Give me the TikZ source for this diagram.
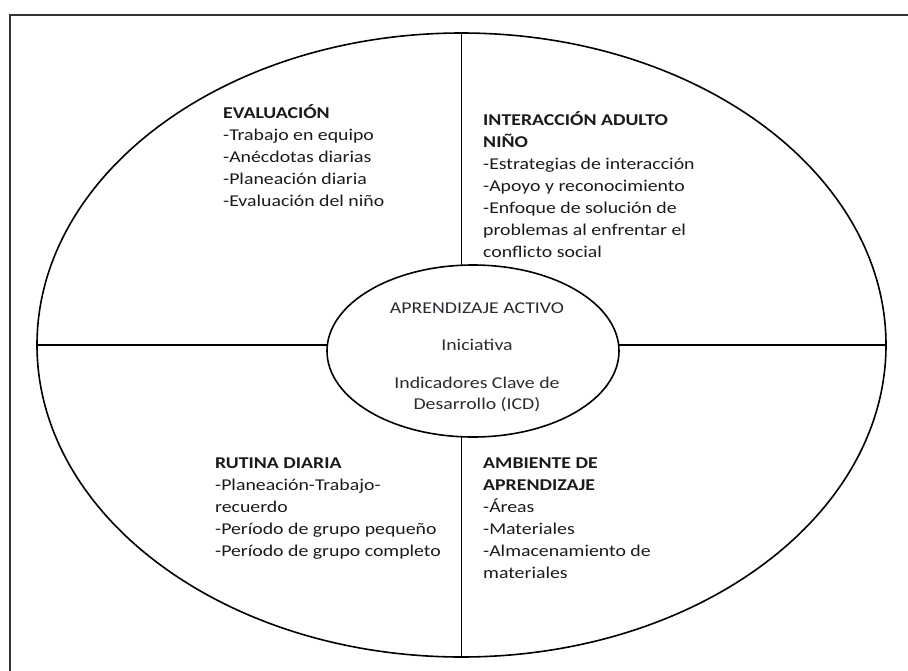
\documentclass[tikz,border=0pt]{standalone}
\usepackage{fontspec}
\setmainfont{Carlito}[FakeStretch=1.2]
\usetikzlibrary{shapes.geometric}
\definecolor{ink}{HTML}{1A1A1A}
\definecolor{inkcore}{HTML}{2A2A30}
\begin{document}
\begin{tikzpicture}[x=1pt,y=-1pt,
  framepen/.style={draw=black!80, line width=1.2pt},
  ringpen/.style={draw=black, line width=1.6pt},
  block/.style={anchor=base west, inner sep=0pt, align=left, text=ink,
    font=\fontsize{16.5}{22}\selectfont},
  coretext/.style={anchor=base, inner sep=0pt, align=center, text=inkcore,
    font=\fontsize{16.5}{21}\selectfont}]
\useasboundingbox (0,0) rectangle (908,670);
\coordinate (fbl) at (10,671);
\coordinate (ftl) at (10,15);
\coordinate (ftr) at (909,15);
\draw[framepen] (fbl) -- (ftl) -- (ftr);
\node[ellipse, ringpen, minimum width=849pt, minimum height=624pt, inner sep=0pt] (outer) at (461.5,345) {};
\draw[ringpen] (outer.north) -- (outer.south);
\draw[ringpen] (outer.west) -- (outer.east);
\node[ellipse, ringpen, fill=white, minimum width=292pt, minimum height=172pt, inner sep=0pt] (core) at (473,351) {};
\node[coretext] (t1) at (477,313) {APRENDIZAJE ACTIVO};
\node[coretext] (t2) at (477,350) {Iniciativa};
\node[coretext] (t3) at (477,409) {Indicadores Clave de\\Desarrollo (ICD)};
\node[block] (eval) at (223,206) {\textbf{EVALUACIÓN}\\-Trabajo en equipo\\-Anécdotas diarias\\-Planeación diaria\\-Evaluación del niño};
\node[block] (inter) at (483,257) {\textbf{INTERACCIÓN ADULTO}\\\textbf{NIÑO}\\-Estrategias de interacción\\-Apoyo y reconocimiento\\-Enfoque de solución de\\problemas al enfrentar el\\conflicto social};
\node[block] (rutina) at (215,556) {\textbf{RUTINA DIARIA}\\-Planeación-Trabajo-\\recuerdo\\-Período de grupo pequeño\\-Período de grupo completo};
\node[block] (amb) at (483,578) {\textbf{AMBIENTE DE}\\\textbf{APRENDIZAJE}\\-Áreas\\-Materiales\\-Almacenamiento de\\materiales};
\end{tikzpicture}
\end{document}
